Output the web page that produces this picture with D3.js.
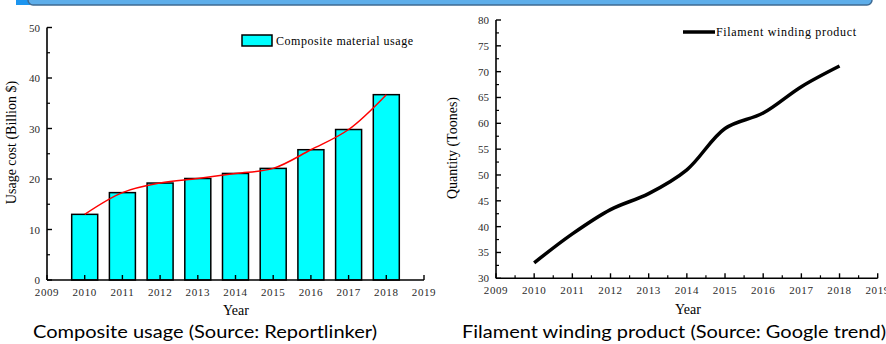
<!DOCTYPE html>
<html><head><meta charset="utf-8">
<script src="https://cdn.jsdelivr.net/npm/d3@7"></script>
<style>body{margin:0;background:#fff;}svg{display:block;}</style>
</head><body>
<script>
const years = [2010,2011,2012,2013,2014,2015,2016,2017,2018];
const usage = [13,17.3,19.2,20.1,21.1,22.1,25.8,29.8,36.7];
const filament = [33,38.6,43.3,46.4,51,59,62,67.1,71.1];
const leftYTicks = [0,10,20,30,40,50];
const rightYTicks = [30,35,40,45,50,55,60,65,70,75,80];
const xTicks = [2009,2010,2011,2012,2013,2014,2015,2016,2017,2018,2019];

const W=886,H=344;
const svg=d3.select("body").append("svg").attr("width",W).attr("height",H);
const serif="'Liberation Serif','Times New Roman',serif";

// banner
svg.append("rect").attr("x",16).attr("y",-6).attr("width",14).attr("height",11).attr("fill","#1d95ef");
svg.append("rect").attr("x",28).attr("y",-12).attr("width",844).attr("height",17).attr("rx",5)
  .attr("fill","#5eaeea").attr("stroke","#3f6b93").attr("stroke-width",1.5);

function axesFrame(g,x,y,yTicks,yMinor,xMinor){
  const [x0,x1]=x.range(), [y0,y1]=y.range();
  g.append("line").attr("x1",x0).attr("x2",x0).attr("y1",y0).attr("y2",y1).attr("stroke","#000").attr("stroke-width",1.6);
  g.append("line").attr("x1",x0).attr("x2",x1).attr("y1",y0).attr("y2",y0).attr("stroke","#000").attr("stroke-width",1.6);
  g.selectAll(".yt").data(yTicks).join("line").attr("x1",x0).attr("x2",x0+5)
    .attr("y1",d=>y(d)).attr("y2",d=>y(d)).attr("stroke","#000").attr("stroke-width",1.4);
  g.selectAll(".ym").data(yMinor).join("line").attr("x1",x0).attr("x2",x0+3)
    .attr("y1",d=>y(d)).attr("y2",d=>y(d)).attr("stroke","#000").attr("stroke-width",1.2);
  g.selectAll(".yl").data(yTicks).join("text").attr("x",x0-7).attr("y",d=>y(d)+4)
    .attr("text-anchor","end").attr("font-family",serif).attr("font-size",11).attr("fill","#2a2a2a").text(d=>d);
  g.selectAll(".xt").data(xTicks).join("line").attr("x1",d=>x(d)).attr("x2",d=>x(d))
    .attr("y1",y0).attr("y2",y0-5).attr("stroke","#000").attr("stroke-width",1.4);
  g.selectAll(".xm").data(xMinor).join("line").attr("x1",d=>x(d)).attr("x2",d=>x(d))
    .attr("y1",y0).attr("y2",y0-3).attr("stroke","#000").attr("stroke-width",1.2);
  g.selectAll(".xl").data(xTicks).join("text").attr("x",d=>x(d)).attr("y",y0+16)
    .attr("text-anchor","middle").attr("font-family",serif).attr("font-size",11).attr("fill","#2a2a2a")
    .attr("letter-spacing",0.6).text(d=>d);
}

// LEFT CHART
const xL=d3.scaleLinear().domain([2009,2019]).range([47,424]);
const yL=d3.scaleLinear().domain([0,50]).range([280,27.5]);
const gL=svg.append("g");
const bw=26;
gL.selectAll(".bar").data(years).join("rect")
  .attr("x",d=>xL(d)-bw/2).attr("width",bw)
  .attr("y",(d,i)=>yL(usage[i])).attr("height",(d,i)=>yL(0)-yL(usage[i]))
  .attr("fill","#00ffff").attr("stroke","#000").attr("stroke-width",1.5);
axesFrame(gL,xL,yL,leftYTicks,[5,15,25,35,45],[]);
gL.append("path").datum(years.map((d,i)=>[d,usage[i]]))
  .attr("d",d3.line().x(d=>xL(d[0])).y(d=>yL(d[1])).curve(d3.curveCatmullRom.alpha(0.5)))
  .attr("fill","none").attr("stroke","#ff0000").attr("stroke-width",1.5);
gL.append("rect").attr("x",242).attr("y",35).attr("width",30).attr("height",11)
  .attr("fill","#00ffff").attr("stroke","#000").attr("stroke-width",1.5);
gL.append("text").attr("x",276).attr("y",45).attr("font-family",serif).attr("font-size",12)
  .attr("textLength",137).text("Composite material usage");
gL.append("text").attr("x",236).attr("y",315).attr("text-anchor","middle").attr("font-family",serif)
  .attr("font-size",14).text("Year");
gL.append("text").attr("transform","translate(16,142.5) rotate(-90)").attr("text-anchor","middle")
  .attr("font-family",serif).attr("font-size",14).text("Usage cost (Billion $)");

// RIGHT CHART
const xR=d3.scaleLinear().domain([2009,2019]).range([496,877.7]);
const yR=d3.scaleLinear().domain([30,80]).range([278.3,20]);
const gR=svg.append("g");
axesFrame(gR,xR,yR,rightYTicks,d3.range(32.5,80,5),d3.range(2009.5,2019,1));
gR.append("path").datum(years.map((d,i)=>[d,filament[i]]))
  .attr("d",d3.line().x(d=>xR(d[0])).y(d=>yR(d[1])).curve(d3.curveCatmullRom.alpha(0.5)))
  .attr("fill","none").attr("stroke","#000").attr("stroke-width",3.5).attr("stroke-linejoin","round");
gR.append("line").attr("x1",683).attr("x2",715).attr("y1",32).attr("y2",32).attr("stroke","#000").attr("stroke-width",3.5);
gR.append("text").attr("x",716).attr("y",36).attr("font-family",serif).attr("font-size",12)
  .attr("textLength",140).text("Filament winding product");
gR.append("text").attr("x",688).attr("y",314).attr("text-anchor","middle").attr("font-family",serif)
  .attr("font-size",14).text("Year");
gR.append("text").attr("transform","translate(457,148) rotate(-90)").attr("text-anchor","middle")
  .attr("font-family",serif).attr("font-size",14).text("Quantity (Toones)");

// captions
const sans="Lato,'Open Sans',sans-serif";
svg.append("text").attr("x",33).attr("y",338).attr("font-family",sans).attr("font-size",18)
  .attr("textLength",344).attr("lengthAdjust","spacingAndGlyphs").text("Composite usage (Source: Reportlinker)");
svg.append("text").attr("x",462).attr("y",338).attr("font-family",sans).attr("font-size",18)
  .attr("textLength",424).attr("lengthAdjust","spacingAndGlyphs").text("Filament winding product (Source: Google trend)");
</script>
</body></html>
